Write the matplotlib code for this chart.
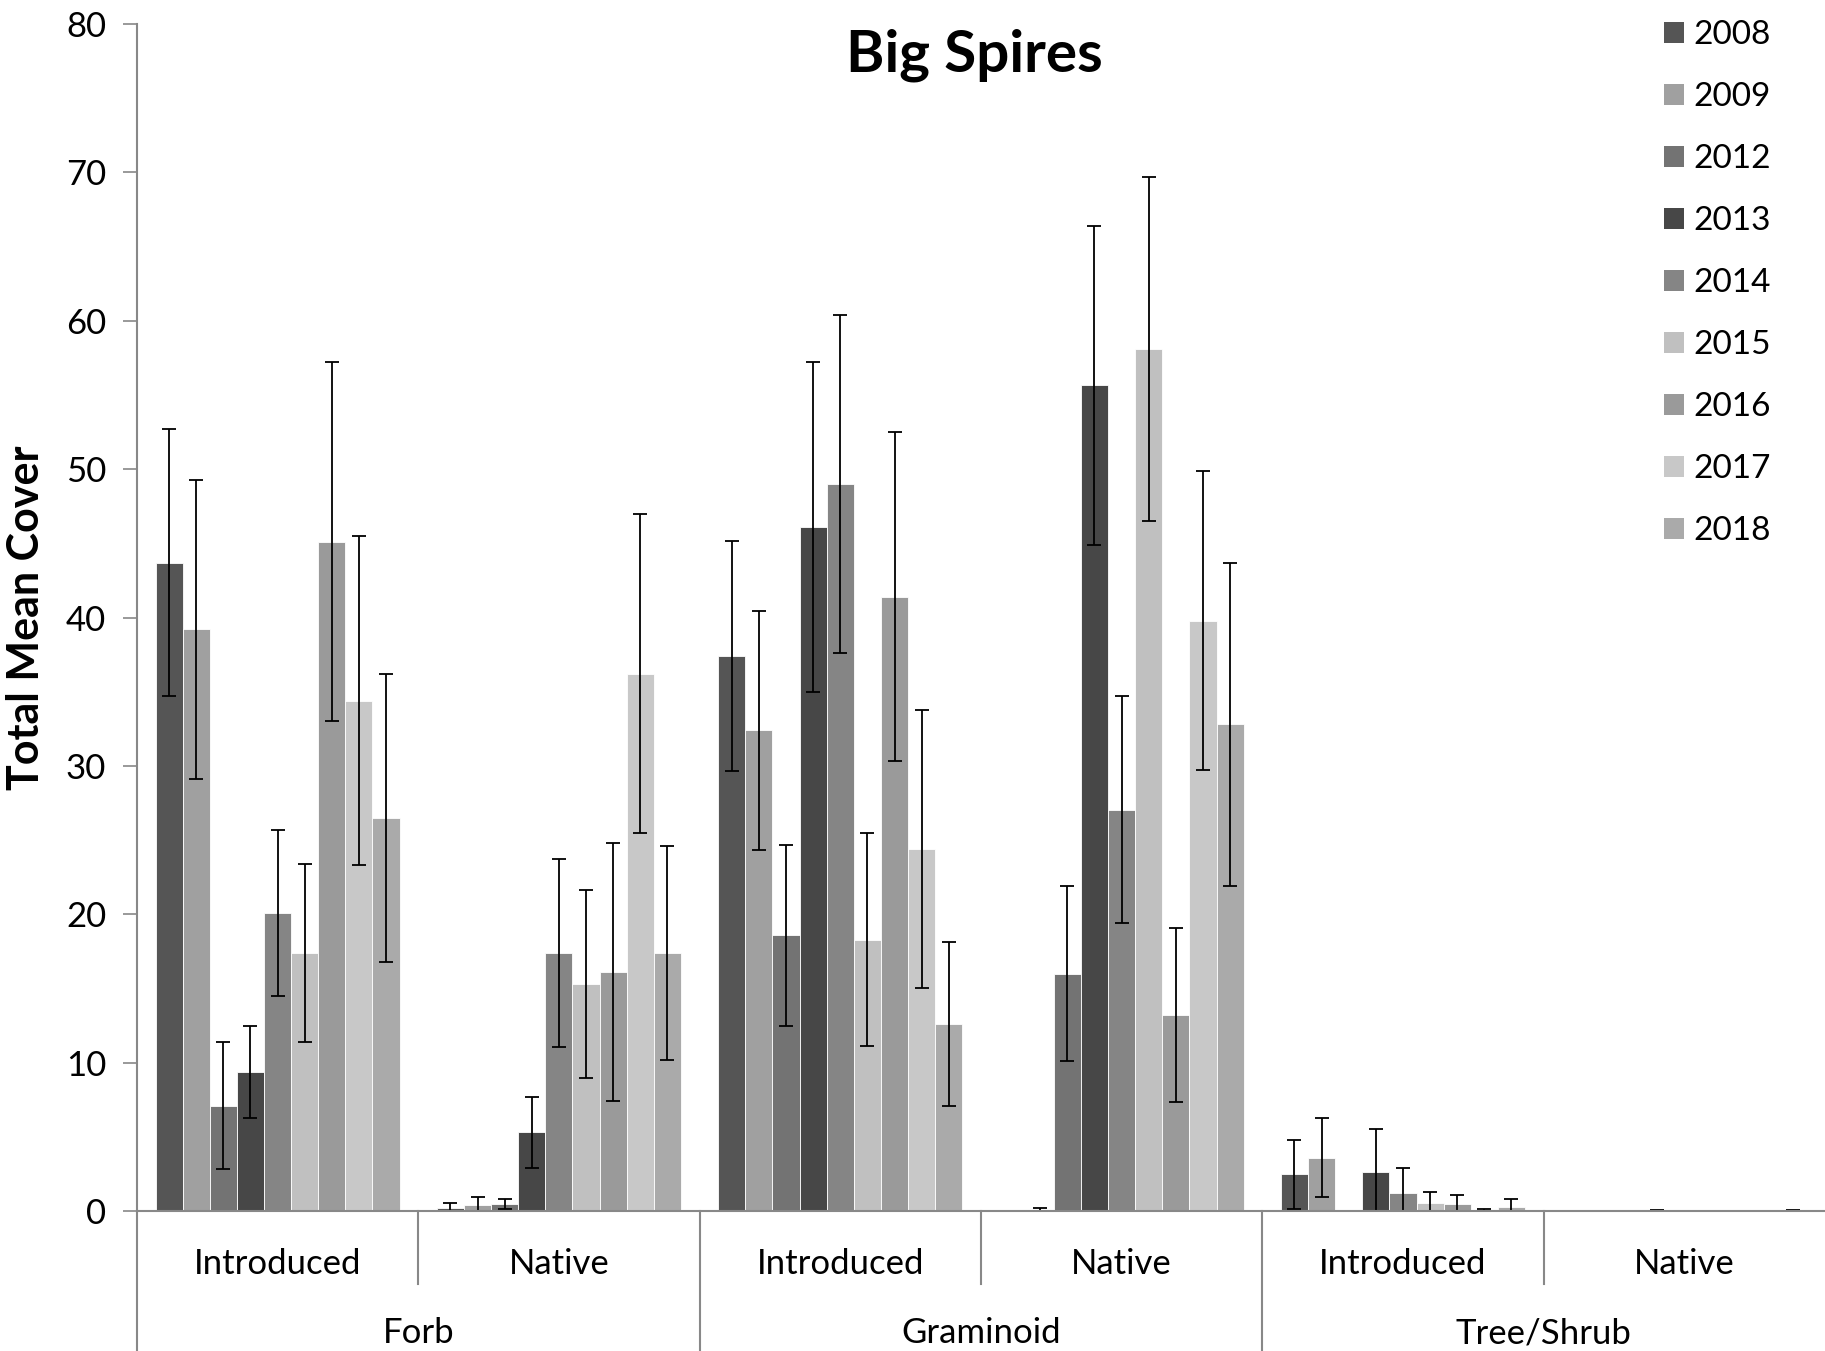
import numpy as np
import matplotlib
matplotlib.use("Agg")
import matplotlib.pyplot as plt
from matplotlib.patches import Patch

plt.rcParams["font.family"] = ["Lato", "DejaVu Sans"]

years = ["2008", "2009", "2012", "2013", "2014", "2015", "2016", "2017", "2018"]
groups = ["Forb", "Graminoid", "Tree/Shrub"]
origins = ["Introduced", "Native"]
colors = ["#555555", "#a0a0a0", "#737373", "#474747", "#858585",
          "#c0c0c0", "#9a9a9a", "#c8c8c8", "#aaaaaa"]

# order: Forb-Intro, Forb-Native, Gram-Intro, Gram-Native, Tree-Intro, Tree-Native
cover_2008 = [43.7, 0.2, 37.4, 0.03, 2.47, 0.02]
cover_2009 = [39.2, 0.4, 32.4, 0.1, 3.6, 0.02]
cover_2012 = [7.1, 0.47, 18.6, 16.0, 0.05, 0.02]
cover_2013 = [9.4, 5.3, 46.1, 55.65, 2.63, 0.03]
cover_2014 = [20.1, 17.4, 49.0, 27.05, 1.19, 0.02]
cover_2015 = [17.4, 15.3, 18.3, 58.1, 0.56, 0.02]
cover_2016 = [45.1, 16.1, 41.4, 13.2, 0.49, 0.02]
cover_2017 = [34.4, 36.2, 24.4, 39.8, 0.05, 0.02]
cover_2018 = [26.5, 17.4, 12.6, 32.8, 0.25, 0.03]

err_2008 = [9.0, 0.35, 7.75, 0.0, 2.3, 0.0]
err_2009 = [10.05, 0.55, 8.05, 0.1, 2.67, 0.0]
err_2012 = [4.3, 0.35, 6.1, 5.9, 0.0, 0.0]
err_2013 = [3.1, 2.4, 11.1, 10.75, 2.9, 0.03]
err_2014 = [5.6, 6.35, 11.4, 7.65, 1.7, 0.0]
err_2015 = [6.0, 6.35, 7.2, 11.6, 0.74, 0.0]
err_2016 = [12.1, 8.7, 11.1, 5.85, 0.56, 0.0]
err_2017 = [11.1, 10.75, 9.4, 10.05, 0.11, 0.0]
err_2018 = [9.7, 7.2, 5.5, 10.9, 0.54, 0.03]

covers = [cover_2008, cover_2009, cover_2012, cover_2013, cover_2014,
          cover_2015, cover_2016, cover_2017, cover_2018]
errs = [err_2008, err_2009, err_2012, err_2013, err_2014,
        err_2015, err_2016, err_2017, err_2018]

fig = plt.figure(figsize=(18.25, 13.51), dpi=100)
ax = fig.add_axes([0.075, 0.1036, 0.925, 0.8786])

axis_gray = "#888888"
centers = np.arange(6) + 0.5
w = 0.0964
for j, (yr, vals, er, c) in enumerate(zip(years, covers, errs, colors)):
    x = centers + (j - 4) * w
    ax.bar(x, vals, width=w, color=c, edgecolor="white", linewidth=0.6, label=yr)
    er = np.array(er)
    m = er > 0
    ax.errorbar(x[m], np.array(vals)[m], yerr=er[m], fmt="none", ecolor="black",
                elinewidth=1.3, capsize=5, capthick=1.3)

ax.set_xlim(0, 6)
ax.set_ylim(0, 80)
ax.set_yticks(range(0, 81, 10))
ax.tick_params(axis="y", labelsize=25, length=10, color=axis_gray, width=1.2, pad=12)
ax.set_xticks([])
for s in ["top", "right"]:
    ax.spines[s].set_visible(False)
for s in ["left", "bottom"]:
    ax.spines[s].set_color(axis_gray)
    ax.spines[s].set_linewidth(1.5)

ax.set_title("Big Spires", fontsize=42, fontweight="bold", x=0.496, y=0.953)
ax.set_ylabel("Total Mean Cover", fontsize=31, fontweight="bold")
ax.yaxis.set_label_coords(-0.0536, 0.5)

# category axis: separators and labels
tr = ax.get_xaxis_transform()
for k in range(6):
    low = -0.118 if k % 2 == 0 else -0.0615
    ax.plot([k, k], [0, low], transform=tr, color=axis_gray, lw=1.5, clip_on=False)
for k in range(6):
    ax.text(k + 0.5, -0.0443, origins[k % 2], transform=tr, ha="center", va="center",
            fontsize=25)
for g in range(3):
    ax.text(2 * g + 1, -0.103, groups[g], transform=tr, ha="center", va="center",
            fontsize=25)

handles = [Patch(facecolor=c, label=y) for y, c in zip(years, colors)]
ax.legend(handles=handles, loc="upper left", bbox_to_anchor=(0.9116, 0.985),
          bbox_transform=fig.transFigure, frameon=False, fontsize=24,
          handlelength=0.6, handleheight=0.6, handletextpad=0.3,
          labelspacing=0.96, borderpad=0, borderaxespad=0)

fig.savefig("out.png", dpi=100)
